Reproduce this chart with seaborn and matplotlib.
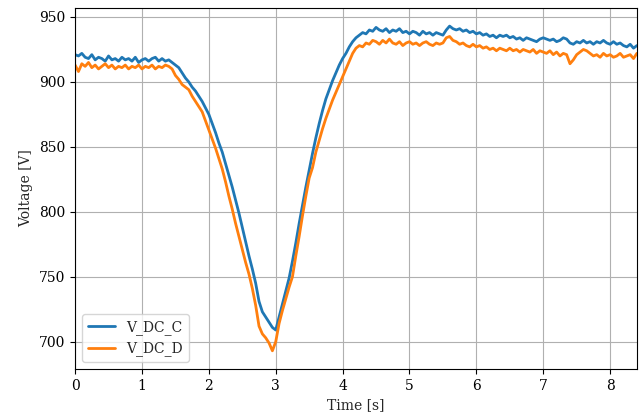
import numpy as np
import pandas as pd
import matplotlib
matplotlib.use("Agg")
import matplotlib.pyplot as plt
import seaborn as sns

# time axis, 0.05 s steps from 0 to 8.4 s
time = np.round(np.arange(169) * 0.05, 2)

# DC link voltages (V)
v_dc_c = [
    921, 920, 922, 919, 918, 921, 917, 919, 918, 916,
    920, 917, 918, 916, 919, 917, 918, 916, 919, 915,
    917, 918, 916, 918, 919, 916, 918, 916, 917, 915,
    913, 911, 907, 903, 900, 896, 893, 889, 885, 880,
    875, 868, 861, 853, 846, 837, 828, 819, 809, 799,
    788, 777, 766, 756, 745, 731, 723, 719, 715, 711,
    709, 719, 729, 739, 749, 762, 776, 791, 805, 819,
    832, 845, 857, 868, 878, 887, 894, 901, 907, 913,
    918, 922, 927, 931, 934, 936, 938, 937, 940, 939,
    942, 940, 939, 941, 938, 940, 939, 941, 938, 939,
    937, 939, 938, 936, 939, 937, 938, 936, 938, 937,
    936, 940, 943, 941, 940, 941, 939, 940, 938, 939,
    937, 938, 936, 937, 935, 936, 934, 936, 935, 936,
    934, 935, 933, 934, 932, 934, 933, 932, 931, 933,
    934, 933, 932, 933, 931, 932, 934, 933, 930, 929,
    931, 930, 932, 930, 931, 929, 931, 930, 932, 930,
    929, 931, 929, 930, 928, 927, 929, 926, 928,
]
v_dc_d = [
    913, 908, 914, 912, 915, 911, 913, 910, 912, 914,
    911, 913, 910, 912, 911, 913, 910, 912, 911, 913,
    910, 912, 911, 913, 910, 912, 911, 913, 912, 910,
    905, 902, 898, 896, 894, 889, 885, 881, 877, 870,
    863, 856, 849, 841, 833, 823, 812, 802, 791, 781,
    771, 761, 752, 741, 728, 712, 706, 703, 699, 693,
    700, 714, 724, 733, 742, 750, 766, 781, 797, 812,
    826, 834, 846, 855, 864, 872, 879, 886, 892, 898,
    904, 910, 916, 922, 926, 928, 927, 930, 929, 932,
    931, 929, 932, 930, 933, 930, 929, 931, 928, 930,
    931, 929, 930, 928, 930, 931, 929, 928, 930, 929,
    930, 934, 935, 932, 931, 929, 930, 928, 927, 929,
    927, 928, 926, 927, 925, 926, 924, 926, 925, 924,
    926, 924, 925, 923, 925, 924, 923, 925, 922, 924,
    923, 922, 924, 921, 923, 920, 922, 921, 914, 917,
    921, 923, 925, 924, 922, 920, 921, 919, 922, 920,
    921, 919, 920, 922, 919, 920, 921, 918, 922,
]

df = pd.concat([
    pd.DataFrame({'Time': time, 'Voltage': v_dc_c, 'Signal': 'V_DC_C'}),
    pd.DataFrame({'Time': time, 'Voltage': v_dc_d, 'Signal': 'V_DC_D'}),
])

sns.set_style('ticks')
plt.rcParams['font.family'] = ['DejaVu Serif']
plt.rcParams['font.size'] = 10

fig, ax = plt.subplots(figsize=(6.42, 4.16), dpi=100)
fig.subplots_adjust(left=0.117, right=0.992, top=0.981, bottom=0.113)

sns.lineplot(data=df, x='Time', y='Voltage', hue='Signal',
             palette=['#1f77b4', '#ff7f0e'], linewidth=2, ax=ax)

ax.set_xlim(0, 8.4)
ax.set_ylim(679, 957)
ax.set_xlabel('Time [s]')
ax.set_ylabel('Voltage [V]')
ax.grid(True, color='#b0b0b0', linewidth=0.8)
for s in ax.spines.values():
    s.set_color('black')
ax.tick_params(colors='black', direction='out', length=3.5, width=0.8)
ax.legend(loc='lower left', title=None, frameon=True)

plt.savefig('out.png', dpi=100)
